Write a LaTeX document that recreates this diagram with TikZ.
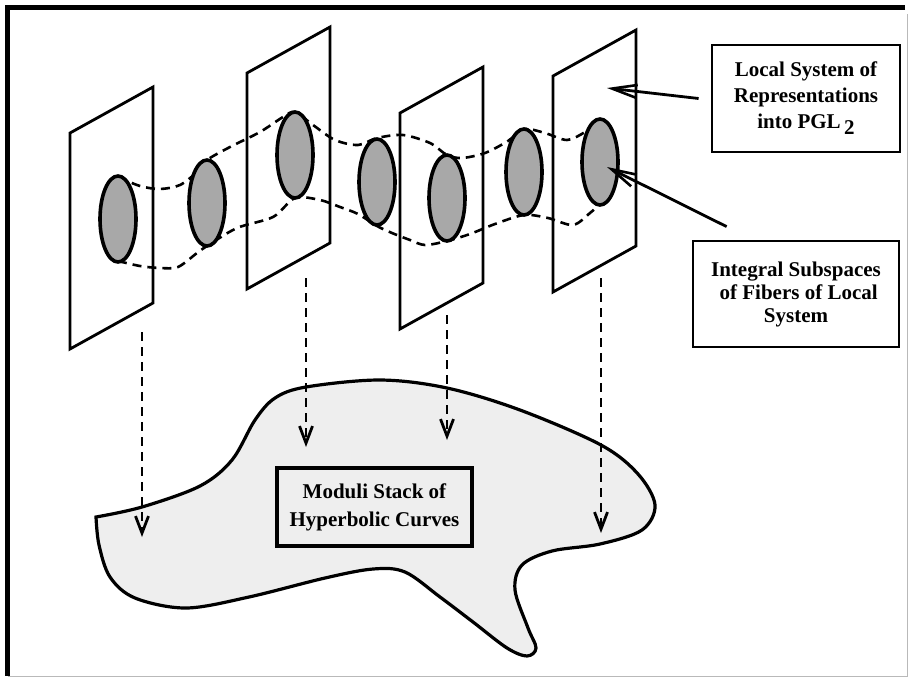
\documentclass[tikz,border=0pt]{standalone}
\usepackage{fontspec}
\setmainfont{Liberation Serif}
\usepackage{tikz}
\usetikzlibrary{arrows.meta, positioning, shapes.geometric, calc}
\newcommand\drawplane[2]{ % one fibre plane, left upper corner at (#1,#2)
    \draw[plane] (#1,#2) -- ++(83,-46) -- ++(0,216) -- ++(-83,46) -- cycle;
}
\newcommand\boxfont[1]{\bfseries\fontsize{21}{#1}\selectfont}

\begin{document}
\begin{tikzpicture}[x=1pt, y=-1pt,
    plane/.style={line width=2.8pt, line join=miter},
    fiber/.style={ellipse, draw, line width=3.6pt, fill=gray!68, minimum width=36pt, minimum height=86pt, inner sep=0pt},
    link/.style={dash pattern=on 9pt off 6pt, line width=2.6pt},
    proj/.style={dash pattern=on 9pt off 6pt, line width=2.6pt, -{Straight Barb[length=17pt, width=13pt, line width=2.8pt]}},
    callout/.style={line width=2.8pt, -{Straight Barb[length=25pt, width=13pt, line width=2.6pt]}},
    labelbox/.style={draw, line width=2.8pt, fill=white, align=center, inner sep=0pt}]
    \useasboundingbox (0,0) rectangle (909,678);
    % frame
    \draw[line width=5pt] (905,7.5) -- (7.5,7.5) -- (7.5,676);
    \draw[gray!55, line width=1.8pt] (7.5,676.5) -- (907.5,676.5) -- (907.5,14);
    % base: the moduli stack
    \filldraw[fill=gray!13, draw=black, line width=3.2pt, line join=miter]
        plot[smooth, tension=0.55] coordinates {(96,517) (142,507) (200,486) (232,460) (255,420) (275,398) (306,387)
        (380,380) (447,388) (520,410) (601,445) (638,474) (655,505) (642,530) (600,544) (552,551) (522,565)
        (515,590) (528,628) (536,648) (527,656) (507,648) (473,622) (440,597) (405,572) (373,569) (325,578)
        (249,597) (186,608) (135,598) (110,577) (99,545) (96,517)} -- cycle;
    \node[labelbox, fill=gray!13, line width=3.2pt, minimum width=195pt, minimum height=78pt,
        font=\boxfont{28}] (stack) at (374.5,507) {Moduli Stack of\\Hyperbolic Curves};
    % planes of the local system
    \foreach \x/\y in {70/133, 247/73, 400/113, 553/76} {
        \drawplane{\x}{\y}
    }
    % fibres
    \foreach \n/\x/\y in {1/118/219, 2/207/203, 3/295/155, 4/377/182, 5/447/198, 6/524/172, 7/600/162} {
        \coordinate (c\n) at (\x,\y);
    }
    \draw[link] plot[smooth, tension=0.5] coordinates {($(c1)+(0,-42)$) (140,186) (160,189) (180,185) (197,172)
        ($(c2)+(0,-43)$) (230,147) (260,132) (283,117) ($(c3)+(0,-43)$) (313,125) (335,140) (358,145)
        ($(c4)+(0,-44)$) (403,135) (430,143) ($(c5)+(0,-43)$) (462,158) (485,153) (508,141)
        ($(c6)+(0,-43)$) (545,133) (567,140) (585,132) ($(c7)+(0,-42)$)};
    \draw[link] plot[smooth, tension=0.5] coordinates {($(c1)+(0,42)$) (140,266) (160,268) (178,267) (197,253)
        ($(c2)+(0,43)$) (237,228) (273,217) ($(c3)+(0,43)$) (320,200) (340,207) (358,214)
        ($(c4)+(0,44)$) (392,233) (410,240) (425,245) ($(c5)+(0,43)$) (470,234) (495,224)
        ($(c6)+(0,43)$) (548,218) (573,225) (590,213) ($(c7)+(0,42)$)};
    \foreach \n in {1,...,7} {
        \node[fiber] (f\n) at (c\n) {};
    }
    % projections to the base
    \foreach \i/\x/\a/\b in {1/142/332/537, 2/306/278/447, 3/447/315/440, 4/601/278/533} {
        \coordinate (s\i) at (\x,\a);
        \coordinate (t\i) at (\x,\b);
        \draw[proj] (s\i) -- (t\i);
    }
    % labels
    \node[labelbox, minimum width=188pt, minimum height=107pt, font=\boxfont{26}] (sys) at (806,98.5)
        {Local System of\\Representations\\into PGL\,\raisebox{-6pt}{2}};
    \node[labelbox, minimum width=206pt, minimum height=106pt, font=\boxfont{23}] (intg) at (796,294)
        {Integral Subspaces\\\ of Fibers of Local\\System};
    \coordinate (sysend) at (607,88);
    \coordinate (intgend) at (607,167);
    \draw[callout] ([xshift=-12pt]sys.west) -- (sysend);
    \draw[callout] ([shift={(35,-13)}]intg.north west) -- (intgend);
\end{tikzpicture}
\end{document}
